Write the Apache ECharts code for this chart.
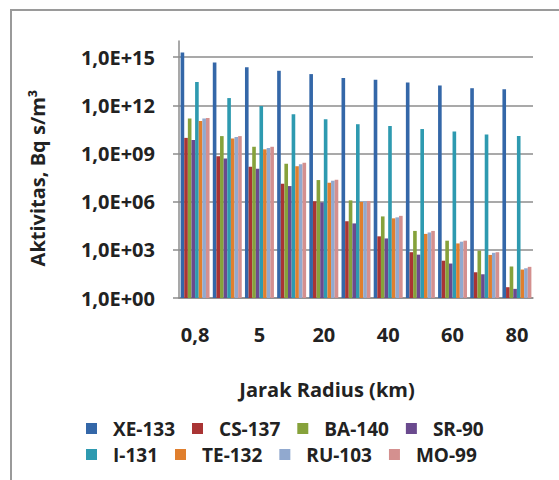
<!DOCTYPE html>
<html><head><meta charset="utf-8">
<script src="https://cdn.jsdelivr.net/npm/echarts@6/dist/echarts.min.js"></script>
<style>html,body{margin:0;padding:0;background:#fff}#c{width:559px;height:480px}</style>
</head><body><div id="c"></div><script>
// Distance categories (km); only every other one is labelled in the chart
const categories = ['0,8', '2', '5', '10', '20', '30', '40', '50', '60', '70', '80'];

// Activity values, Bq s/m3 (log scale)
const xe133 = [1.9e15, 4.6e14, 2.3e14, 1.4e14, 8.7e13, 4.9e13, 3.8e13, 2.6e13, 1.7e13, 1.15e13, 1.0e13];
const cs137 = [9.3e9, 6.8e8, 1.5e8, 1.3e7, 1.05e6, 6.0e4, 6.9e3, 7.1e2, 2.1e2, 40, 4.7];
const ba140 = [1.5e11, 1.2e10, 2.6e9, 2.3e8, 2.2e7, 1.2e6, 1.2e5, 1.5e4, 3.7e3, 8.9e2, 91];
const sr90  = [6.8e9, 4.9e8, 1.1e8, 9.3e6, 8.9e5, 4.4e4, 5.1e3, 5.0e2, 1.4e2, 30, 3.7];
const i131  = [2.8e13, 2.8e12, 9.1e11, 2.8e11, 1.35e11, 6.6e10, 5.1e10, 3.3e10, 2.3e10, 1.5e10, 1.2e10];
const te132 = [1.05e11, 8.5e9, 1.8e9, 1.6e8, 1.5e7, 9.5e5, 9.1e4, 9.8e3, 2.5e3, 4.8e2, 59];
const ru103 = [1.5e11, 1.07e10, 2.2e9, 2.1e8, 2.0e7, 1.05e6, 1.05e5, 1.2e4, 3.2e3, 6.5e2, 71];
const mo99  = [1.6e11, 1.2e10, 2.6e9, 2.6e8, 2.3e7, 1.1e6, 1.3e5, 1.5e4, 3.7e3, 7.1e2, 87];

const seriesNames = ['XE-133', 'CS-137', 'BA-140', 'SR-90', 'I-131', 'TE-132', 'RU-103', 'MO-99'];
const seriesData = [xe133, cs137, ba140, sr90, i131, te132, ru103, mo99];
const colors = ['#3467A8', '#A93434', '#86A23B', '#6A4A8E', '#2E9AB0', '#E07F2E', '#91A9CF', '#D4908F'];

const yTitle = 'Aktivitas, Bq s/m³';
const xTitle = 'Jarak Radius (km)';

const FONT = '"Open Sans", "Liberation Sans", sans-serif';
const chart = echarts.init(document.getElementById('c'), null, {renderer: 'svg'});

const legendCommon = {
  left: 81,
  orient: 'horizontal',
  itemWidth: 11,
  itemHeight: 11,
  itemGap: 17,
  icon: 'rect',
  selectedMode: false,
  textStyle: {fontFamily: FONT, fontWeight: 'bold', fontSize: 19, color: '#222', width: 70, padding: [0, 0, 0, 11]}
};

chart.setOption({
  animation: false,
  color: colors,
  textStyle: {fontFamily: FONT},
  grid: {left: 179, right: 26, top: 41, bottom: 182, containLabel: false},
  legend: [
    Object.assign({}, legendCommon, {top: 414, data: seriesNames.slice(0, 4)}),
    Object.assign({}, legendCommon, {top: 440, data: seriesNames.slice(4)})
  ],
  graphic: [{
    type: 'rect', silent: true,
    shape: {x: 11, y: 10, width: 560, height: 480},
    style: {fill: 'none', stroke: '#9a9a9a', lineWidth: 2}
  }],
  xAxis: {
    type: 'category',
    data: categories,
    name: xTitle,
    nameLocation: 'middle',
    nameGap: 81,
    nameTextStyle: {fontFamily: FONT, fontWeight: 'bold', fontSize: 20, color: '#222', padding: [0, 58, 0, 0]},
    axisLine: {lineStyle: {color: '#8c8c8c', width: 1.5}},
    axisTick: {interval: 0, length: 6, lineStyle: {color: '#8c8c8c', width: 1.5}},
    axisLabel: {interval: 1, margin: 26, fontFamily: FONT, fontWeight: 'bold', fontSize: 20, color: '#222'}
  },
  yAxis: {
    type: 'log',
    logBase: 10,
    min: 1,
    max: 1e16,
    interval: 3,
    name: yTitle,
    nameLocation: 'middle',
    nameGap: 132,
    nameRotate: 90,
    nameTextStyle: {fontFamily: FONT, fontWeight: 'bold', fontSize: 20, color: '#222', padding: [0, 17, 0, 0]},
    axisLine: {show: true, lineStyle: {color: '#8c8c8c', width: 1.5}},
    axisTick: {show: true, length: 6, lineStyle: {color: '#8c8c8c', width: 1.5}},
    axisLabel: {
      margin: 24, showMaxLabel: false,
      fontFamily: FONT, fontWeight: 'bold', fontSize: 20, color: '#222',
      formatter: function (v) {
        const e = Math.round(Math.log10(v));
        if (e > 15) return '';
        return '1,0E+' + String(e).padStart(2, '0');
      }
    },
    splitLine: {show: true, showMaxLine: false, lineStyle: {color: '#8c8c8c', width: 1.5}}
  },
  series: seriesNames.map(function (n, i) {
    return {
      name: n, type: 'bar', data: seriesData[i],
      barGap: '0%', barCategoryGap: '10%',
      itemStyle: {color: colors[i]}
    };
  })
});
</script></body></html>
